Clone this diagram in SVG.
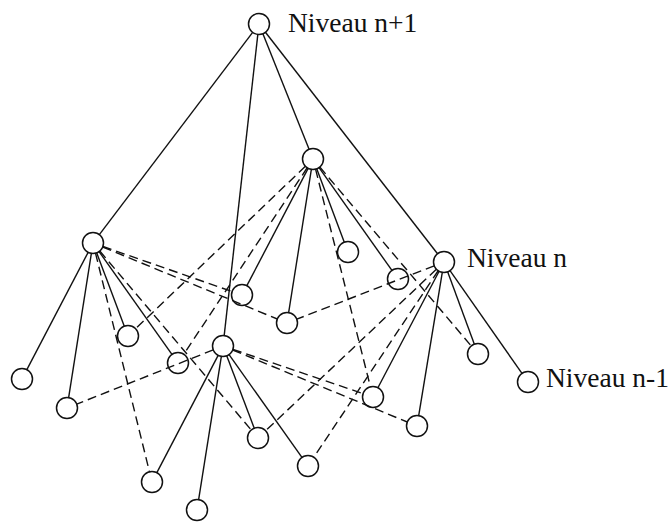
<svg xmlns="http://www.w3.org/2000/svg" width="671" height="522" viewBox="0 0 671 522">
<style>
.n{fill:none;stroke:#111;stroke-width:1.5}
.s{stroke:#111;stroke-width:1.4;fill:none}
.d{stroke:#111;stroke-width:1.4;fill:none;stroke-dasharray:9 5}
.t{font-family:"Liberation Serif","Times New Roman",serif;font-size:27.5px;fill:#111}
</style>
<rect width="671" height="522" fill="#fff"/>
<g id="connectors">
<line class="s" x1="252.66" y1="32.37" x2="99.34" y2="234.63"/>
<line class="s" x1="257.83" y1="34.44" x2="224.17" y2="335.56"/>
<line class="s" x1="262.9" y1="33.75" x2="309.1" y2="149.25"/>
<line class="s" x1="265.45" y1="32.29" x2="437.55" y2="253.71"/>
<line class="s" x1="88.14" y1="252.31" x2="26.86" y2="369.69"/>
<line class="s" x1="91.37" y1="253.37" x2="68.63" y2="397.63"/>
<line class="s" x1="96.7" y1="252.83" x2="124.3" y2="326.17"/>
<line class="s" x1="99.07" y1="251.57" x2="171.93" y2="354.43"/>
<line class="s" x1="218.14" y1="355.31" x2="156.86" y2="472.69"/>
<line class="s" x1="221.36" y1="356.37" x2="198.64" y2="499.63"/>
<line class="s" x1="226.73" y1="355.81" x2="254.27" y2="428.19"/>
<line class="s" x1="229.07" y1="354.57" x2="301.93" y2="457.43"/>
<line class="s" x1="308.14" y1="168.31" x2="246.86" y2="285.69"/>
<line class="s" x1="311.36" y1="169.37" x2="288.64" y2="312.63"/>
<line class="s" x1="316.7" y1="168.83" x2="344.3" y2="242.17"/>
<line class="s" x1="319.07" y1="167.57" x2="391.93" y2="270.43"/>
<line class="s" x1="439.11" y1="271.29" x2="377.89" y2="387.71"/>
<line class="s" x1="442.29" y1="272.36" x2="418.71" y2="415.64"/>
<line class="s" x1="447.64" y1="271.85" x2="474.36" y2="344.15"/>
<line class="s" x1="450.02" y1="270.6" x2="521.98" y2="373.4"/>
<line class="d" x1="95.52" y1="253.19" x2="149.48" y2="471.81"/>
<line class="d" x1="99.78" y1="251.02" x2="251.22" y2="429.98"/>
<line class="d" x1="102.91" y1="246.46" x2="232.09" y2="291.54"/>
<line class="d" x1="102.71" y1="247.0" x2="277.29" y2="319.0"/>
<line class="d" x1="213.24" y1="349.88" x2="76.76" y2="404.12"/>
<line class="d" x1="232.94" y1="349.38" x2="363.06" y2="393.62"/>
<line class="d" x1="232.71" y1="350.0" x2="407.29" y2="422.0"/>
<line class="d" x1="305.41" y1="166.26" x2="135.59" y2="328.74"/>
<line class="d" x1="307.2" y1="167.76" x2="183.8" y2="354.24"/>
<line class="d" x1="315.57" y1="169.18" x2="370.43" y2="386.82"/>
<line class="d" x1="319.78" y1="167.02" x2="471.22" y2="345.98"/>
<line class="d" x1="434.21" y1="265.8" x2="296.79" y2="319.2"/>
<line class="d" x1="436.37" y1="269.22" x2="265.63" y2="430.78"/>
<line class="d" x1="438.18" y1="270.74" x2="313.82" y2="457.26"/>
</g>
<g id="top"><circle class="n" cx="259" cy="24" r="10.5"/><text class="t" x="288" y="32">Niveau n+1</text></g>
<g id="L"><circle class="n" cx="93" cy="243" r="10.5"/></g>
<g id="C"><circle class="n" cx="223" cy="346" r="10.5"/></g>
<g id="M"><circle class="n" cx="313" cy="159" r="10.5"/></g>
<g id="R"><circle class="n" cx="444" cy="262" r="10.5"/><text class="t" x="467" y="267">Niveau n</text></g>
<g id="a1"><circle class="n" cx="22" cy="379" r="10.5"/></g>
<g id="a2"><circle class="n" cx="67" cy="408" r="10.5"/></g>
<g id="a3"><circle class="n" cx="128" cy="336" r="10.5"/></g>
<g id="a4"><circle class="n" cx="178" cy="363" r="10.5"/></g>
<g id="c1"><circle class="n" cx="152" cy="482" r="10.5"/></g>
<g id="c2"><circle class="n" cx="197" cy="510" r="10.5"/></g>
<g id="c3"><circle class="n" cx="258" cy="438" r="10.5"/></g>
<g id="c4"><circle class="n" cx="308" cy="466" r="10.5"/></g>
<g id="m1"><circle class="n" cx="242" cy="295" r="10.5"/></g>
<g id="m2"><circle class="n" cx="287" cy="323" r="10.5"/></g>
<g id="m3"><circle class="n" cx="348" cy="252" r="10.5"/></g>
<g id="m4"><circle class="n" cx="398" cy="279" r="10.5"/></g>
<g id="r1"><circle class="n" cx="373" cy="397" r="10.5"/></g>
<g id="r2"><circle class="n" cx="417" cy="426" r="10.5"/></g>
<g id="r3"><circle class="n" cx="478" cy="354" r="10.5"/></g>
<g id="r4"><circle class="n" cx="528" cy="382" r="10.5"/><text class="t" x="546" y="387">Niveau n-1</text></g>
</svg>
